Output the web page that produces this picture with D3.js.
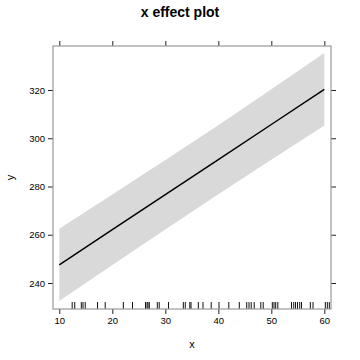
<!DOCTYPE html>
<html>
<head>
<meta charset="utf-8">
<script src="https://cdn.jsdelivr.net/npm/d3@7"></script>
<style>
  html, body { margin: 0; padding: 0; background: #fff; }
  svg { display: block; font-family: "Liberation Sans", Arial, sans-serif; }
</style>
</head>
<body>
<svg id="chart" width="360" height="360"></svg>
<script>
// ---- data ----
const title = "x effect plot";
const xLabel = "x";
const yLabel = "y";
const xs    = [10, 20, 30, 40, 50, 60];
const fit   = [247.5, 262.1, 276.6, 291.1, 305.7, 320.3];
const lower = [232.5, 247.5, 262.2, 276.8, 291.1, 305.3];
const upper = [262.5, 276.7, 291.0, 305.4, 320.3, 335.3];
const xTicks = [10, 20, 30, 40, 50, 60];
const yTicks = [240, 260, 280, 300, 320];
const rugX = [12.43, 12.91, 14.15, 14.47, 14.89, 17.21, 18.66, 22.08, 23.81,
  26.26, 26.55, 26.74, 26.98, 28.49, 28.85, 30.60, 33.40, 33.77, 34.62, 34.85,
  36.23, 37.11, 38.66, 40.13, 41.98, 43.96, 45.36, 45.79, 46.21, 46.77, 48.02,
  48.47, 50.19, 50.51, 50.83, 51.23, 53.81, 54.23, 54.57, 54.94, 55.36, 55.70,
  57.36, 57.87, 60.19, 60.57, 60.94];

// ---- layout ----
const L = 53, R = 331, T = 46, B = 309;
const svg = d3.select("#chart");
const x = d3.scaleLinear().domain([8.81, 61.26]).range([L, R]);
const y = d3.scaleLinear().domain([229.22, 338.24]).range([B, T]);

const pts = xs.map((d, i) => ({x: d, fit: fit[i], lo: lower[i], hi: upper[i]}));

// band
svg.append("path")
  .datum(pts)
  .attr("fill", "#d9d9d9")
  .attr("d", d3.area().x(d => x(d.x)).y0(d => y(d.lo)).y1(d => y(d.hi)));

// line
svg.append("path")
  .datum(pts)
  .attr("fill", "none")
  .attr("stroke", "#000")
  .attr("stroke-width", 1.5)
  .attr("d", d3.line().x(d => x(d.x)).y(d => y(d.fit)));

// rug
svg.append("g").selectAll("line").data(rugX).join("line")
  .attr("x1", d => x(d)).attr("x2", d => x(d))
  .attr("y1", B - 7).attr("y2", B)
  .attr("stroke", "#111").attr("stroke-width", 1);

// axes
const tickLen = 5;
const axB = d3.axisBottom(x).tickValues(xTicks).tickSize(tickLen).tickPadding(3).tickSizeOuter(0);
const axT = d3.axisTop(x).tickValues(xTicks).tickSize(tickLen).tickFormat("").tickSizeOuter(0);
const axLft = d3.axisLeft(y).tickValues(yTicks).tickSize(tickLen).tickPadding(3).tickSizeOuter(0);
const axRt = d3.axisRight(y).tickValues(yTicks).tickSize(tickLen).tickFormat("").tickSizeOuter(0);

function style(g) {
  g.select(".domain").remove();
  g.selectAll(".tick line").attr("stroke", "#222");
  g.selectAll(".tick text").attr("fill", "#000").attr("font-size", 9.5);
  g.attr("font-family", null);
}
svg.append("g").attr("transform", `translate(0,${B})`).call(axB).call(style);
svg.append("g").attr("transform", `translate(0,${T})`).call(axT).call(style);
svg.append("g").attr("transform", `translate(${L},0)`).call(axLft).call(style);
svg.append("g").attr("transform", `translate(${R},0)`).call(axRt).call(style);

// frame
svg.append("rect")
  .attr("x", L).attr("y", T).attr("width", R - L).attr("height", B - T)
  .attr("fill", "none").attr("stroke", "#999").attr("stroke-width", 1.2);

// labels
svg.append("text").attr("x", 180).attr("y", 17).attr("text-anchor", "middle")
  .attr("font-size", 14).attr("font-weight", "bold").text(title);
svg.append("text").attr("x", (L + R) / 2).attr("y", 348).attr("text-anchor", "middle")
  .attr("font-size", 11).text(xLabel);
svg.append("text").attr("transform", `translate(14,${(T + B) / 2}) rotate(-90)`)
  .attr("text-anchor", "middle").attr("font-size", 11).text(yLabel);
</script>
</body>
</html>
